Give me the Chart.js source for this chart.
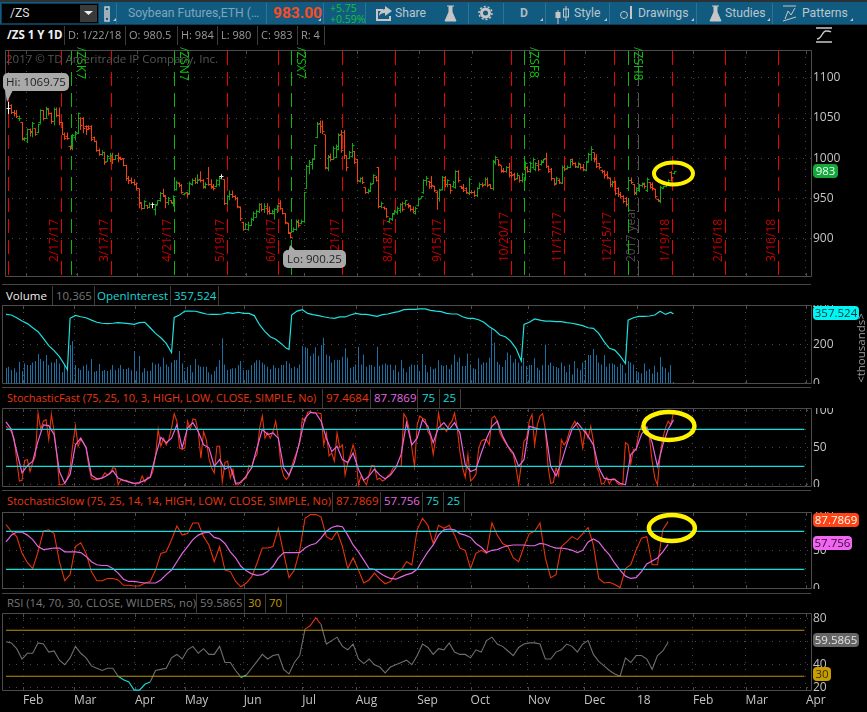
<!DOCTYPE html>
<html><head><meta charset="utf-8">
<style>
html,body{margin:0;padding:0;background:#000;width:867px;height:712px;overflow:hidden;font-family:"Open Sans",sans-serif}
canvas{position:absolute;left:0}
.a{position:absolute;white-space:nowrap}
.t{position:absolute;white-space:nowrap;font-size:11.500px;line-height:16px;color:#9a9a9a}
.sep{position:absolute;width:1px;background:#3c3c3c}
.hl{position:absolute;left:2px;width:809px;height:1px;background:#444}
.pill{position:absolute;left:813px;border-radius:4px;font-size:11.500px;line-height:14px;text-align:center;height:14px}
.tool{position:absolute;top:4px;font-family:Roboto,sans-serif;font-size:12.200px;line-height:18px;color:#b9c6ce;white-space:nowrap}
.tsep{position:absolute;top:3px;height:21px;width:1px;background:#2a7497}
.callout{position:absolute;background:#a9a9a9;color:#222;border-radius:5px;font-size:11.500px;line-height:18px;text-align:center}
</style></head><body>
<div class="a" style="left:0;top:0;width:867px;height:2px;background:#2b3135"></div>
<div class="a" style="left:0;top:2px;width:867px;height:22px;background:#125b80"></div>
<div class="a" style="left:0;top:24px;width:867px;height:1px;background:#0c3c56"></div>
<div class="a" style="left:2px;top:4px;width:96px;height:19px;background:#000;box-shadow:0 0 0 1px #0c3c56"></div>
<div class="a" style="left:80px;top:5px;width:17px;height:17px;background:#3a3a3a"></div>
<svg class="a" style="left:0;top:0" width="867" height="45">
<path d="M84 11h9l-4.500 4z" fill="#eee"/>
<path d="M105 7h4v14h-4zM107 10v8" stroke="#ccc" stroke-width="1.500" fill="none"/>
<path d="M376 9h7v2h-5v8h11v-3h2v5h-15zM385 6l7 5-7 5v-3c-3 0-5 1-6 3 0-4 2-6 6-7z" fill="#c6c6c6"/>
<path d="M447 6h7M449 6v6l-4 9h11l-4-9V6" fill="#c6c6c6" stroke="#c6c6c6"/>
<circle cx="485.500" cy="13" r="4" fill="none" stroke="#c6c6c6" stroke-width="3"/><circle cx="485.500" cy="13" r="6.500" fill="none" stroke="#c6c6c6" stroke-width="1.500" stroke-dasharray="2 2"/>
<path d="M558 10v14M566 6v15" stroke="#c6c6c6"/><rect x="555.500" y="12" width="5" height="6" fill="#c6c6c6"/><rect x="563.500" y="9" width="5" height="8" fill="none" stroke="#c6c6c6"/>
<circle cx="624" cy="15" r="3.500" fill="none" stroke="#c6c6c6"/><path d="M631 6v13" stroke="#c6c6c6" stroke-width="2"/>
<path d="M712 6h7M714 6v6l-4 9h11l-4-9V6" fill="#c6c6c6" stroke="#c6c6c6"/>
<path d="M783 6h13M785 19l3-8 3 4 4-7M783 21l13-4" stroke="#c6c6c6" fill="none"/>
<path d="M816 28h16M816 42h16M817 39c5 0 5-8 9-8 2 0 4 0 5 1" stroke="#c9c9c9" fill="none" stroke-width="1.300"/>
<path d="M116 21l-3 0 3-3zM321 21l-3 0 3-3zM543 21l-3 0 3-3zM607 21l-3 0 3-3zM694 21l-3 0 3-3zM770 21l-3 0 3-3zM853 21l-3 0 3-3z" fill="#c6c6c6"/>
</svg>
<div class="tool" style="left:10px;color:#ddd;top:4px">/ZS</div>
<div class="tool" style="left:128px;color:#7ea6bb">Soybean Futures,ETH (…</div>
<div class="tool" style="left:273px;color:#ff4a20;font-weight:700;font-size:15.500px;top:4px">983.00</div>
<div class="a" style="left:330px;top:3px;color:#12c23a;font-size:10.500px;line-height:11px">+5.75<br>+0.59%</div>
<div class="tool" style="left:395px">Share</div>
<div class="tool" style="left:520px;font-weight:700;color:#aeb9c0">D</div>
<div class="tool" style="left:574px">Style</div>
<div class="tool" style="left:638px">Drawings</div>
<div class="tool" style="left:725px">Studies</div>
<div class="tool" style="left:802px">Patterns</div>
<div class="tsep" style="left:116px"></div><div class="tsep" style="left:266px"></div><div class="tsep" style="left:323px"></div><div class="tsep" style="left:365px"></div><div class="tsep" style="left:468px"></div><div class="tsep" style="left:503px"></div><div class="tsep" style="left:545px"></div><div class="tsep" style="left:609px"></div><div class="tsep" style="left:696px"></div><div class="tsep" style="left:772px"></div>

<canvas id="c0" style="top:45px" width="867" height="237"></canvas>
<canvas id="c1" style="top:305px" width="867" height="79"></canvas>
<canvas id="c2" style="top:408px" width="867" height="79"></canvas>
<canvas id="c3" style="top:512px" width="867" height="77"></canvas>
<canvas id="c4" style="top:613px" width="867" height="99"></canvas>

<div class="t" style="left:7px;top:27px;color:#f0f0f0;font-weight:700">/ZS 1 Y 1D</div>
<div class="t" style="left:68px;top:27px;font-size:11px">D: 1/22/18</div><div class="t" style="left:129px;top:27px;font-size:11px">O: 980.5</div><div class="t" style="left:181px;top:27px;font-size:11px">H: 984</div><div class="t" style="left:221px;top:27px;font-size:11px">L: 980</div><div class="t" style="left:261px;top:27px;font-size:11px">C: 983</div><div class="t" style="left:301px;top:27px;font-size:11px">R: 4</div>
<div class="sep" style="left:64px;top:26px;height:19px"></div><div class="sep" style="left:125px;top:26px;height:19px"></div><div class="sep" style="left:177px;top:26px;height:19px"></div><div class="sep" style="left:217px;top:26px;height:19px"></div><div class="sep" style="left:257px;top:26px;height:19px"></div><div class="sep" style="left:297px;top:26px;height:19px"></div><div class="sep" style="left:324px;top:26px;height:19px"></div>
<div class="a" style="left:6px;top:51px;color:#555;font-size:11.500px;line-height:16px">2017 © TD Ameritrade IP Company, Inc.</div>

<div class="hl" style="top:284px"></div>
<div class="t" style="left:6px;top:288px;color:#eee">Volume</div><div class="t" style="left:56px;top:288px;color:#777">10,365</div><div class="t" style="left:97px;top:288px;color:#19d8d8">OpenInterest</div><div class="t" style="left:174px;top:288px;color:#19d8d8">357,524</div>
<div class="sep" style="left:52px;top:286px;height:19px"></div><div class="sep" style="left:94px;top:286px;height:19px"></div><div class="sep" style="left:170px;top:286px;height:19px"></div><div class="sep" style="left:218px;top:286px;height:19px"></div>

<div class="hl" style="top:387px"></div>
<div class="t" style="left:7px;top:390px;color:#e8380f;font-size:11px">StochasticFast (75, 25, 10, 3, HIGH, LOW, CLOSE, SIMPLE, No)</div><div class="t" style="left:326px;top:390px;color:#e8380f">97.4684</div><div class="t" style="left:374px;top:390px;color:#e36ae3">87.7869</div><div class="t" style="left:422px;top:390px;color:#19d8d8">75</div><div class="t" style="left:443px;top:390px;color:#19d8d8">25</div>
<div class="sep" style="left:322px;top:389px;height:19px"></div><div class="sep" style="left:370px;top:389px;height:19px"></div><div class="sep" style="left:417px;top:389px;height:19px"></div><div class="sep" style="left:439px;top:389px;height:19px"></div><div class="sep" style="left:460px;top:389px;height:19px"></div>

<div class="hl" style="top:490px"></div>
<div class="t" style="left:7px;top:493px;color:#e8380f;font-size:11.200px">StochasticSlow (75, 25, 14, 14, HIGH, LOW, CLOSE, SIMPLE, No)</div><div class="t" style="left:336px;top:493px;color:#e8380f">87.7869</div><div class="t" style="left:384px;top:493px;color:#e36ae3">57.756</div><div class="t" style="left:426px;top:493px;color:#19d8d8">75</div><div class="t" style="left:447px;top:493px;color:#19d8d8">25</div>
<div class="sep" style="left:332px;top:492px;height:20px"></div><div class="sep" style="left:380px;top:492px;height:20px"></div><div class="sep" style="left:422px;top:492px;height:20px"></div><div class="sep" style="left:443px;top:492px;height:20px"></div><div class="sep" style="left:464px;top:492px;height:20px"></div>

<div class="hl" style="top:593px"></div>
<div class="t" style="left:7px;top:595px;color:#777;font-size:11.300px">RSI (14, 70, 30, CLOSE, WILDERS, no)</div><div class="t" style="left:200px;top:595px;color:#777">59.5865</div><div class="t" style="left:248px;top:595px;color:#c29a08">30</div><div class="t" style="left:269px;top:595px;color:#c29a08">70</div>
<div class="sep" style="left:196px;top:594px;height:19px"></div><div class="sep" style="left:244px;top:594px;height:19px"></div><div class="sep" style="left:265px;top:594px;height:19px"></div><div class="sep" style="left:286px;top:594px;height:19px"></div>

<svg class="a" style="left:0;top:0" width="350" height="275"><path d="M5 90l2 12 6-12zM288 253l2-8 8 8z" fill="#a9a9a9"/></svg>
<div class="callout" style="left:3px;top:73px;width:66px;height:18px">Hi: 1069.75</div>
<div class="callout" style="left:283px;top:250px;width:63px;height:18px">Lo: 900.25</div>

<div class="a" style="left:825px;top:340px;color:#999;font-size:11.500px;line-height:16px;width:72px;text-align:center;transform:rotate(-90deg)">&lt;thousands&gt;</div>
<div class="pill" style="top:164px;width:25px;background:#14a83c;color:#eafff0">983</div>
<div class="pill" style="top:306px;width:46px;background:#00f5f5;color:#04383a">357.524</div>
<div class="pill" style="top:513px;width:46px;background:#ff4312;color:#fff">87.7869</div>
<div class="pill" style="top:536px;width:39px;background:#f264f2;color:#30102f">57.756</div>
<div class="pill" style="top:633px;width:46px;background:#666;color:#e4e4e4">59.5865</div>
<div class="pill" style="top:667px;width:18px;background:#c79d00;color:#3a2e00">30</div>

<script src="https://cdn.jsdelivr.net/npm/chart.js@4/dist/chart.umd.js"></script>
<script>
// ---- price bars (bar 0 = Jan 2017, bar 250 = 1/22/18)
const highs=[1070,1067,1060,1060,1053,1045,1026,1037,1037,1045,1037,1043,1061,1060,1064,1062,1057,1063,1063,1063,1045,1032,1032,1016,1030,1034,1057,1051,1051,1041,1041,1041,1027,1022,1012,1010,1008,1004,1007,1007,1004,1007,1002,1000,992,978,976,974,970,962,945,948,942,945,945,943,948,958,962,954,952,948,954,972,970,968,957,958,971,975,976,980,984,974,970,989,974,968,974,978,980,974,954,960,960,954,952,940,921,920,921,926,934,936,944,944,944,944,940,936,938,942,948,938,932,920,908,914,924,924,924,958,992,998,1000,1017,1045,1047,1047,1029,1004,1006,1015,1017,1031,1035,1035,1003,1009,1019,1009,999,976,977,964,962,970,980,978,989,946,940,938,926,932,936,940,944,946,948,944,942,940,940,950,953,974,978,972,978,966,960,962,978,978,974,968,972,985,985,966,968,964,976,960,960,964,970,970,976,976,968,998,1003,998,991,988,990,994,984,982,982,978,982,996,990,996,1001,995,998,998,999,1007,991,988,975,977,975,991,991,991,999,999,995,995,993,993,997,1007,1015,1007,1005,994,986,985,984,976,972,972,964,958,954,952,974,976,968,964,968,970,970,976,970,970,962,950,966,966,968,974,984,984];
const lows=[1055,1055,1052,1050,1046,1022,1021,1019,1027,1026,1028,1031,1043,1047,1049,1053,1043,1041,1051,1041,1029,1023,1023,1010,1010,1022,1030,1035,1031,1029,1035,1021,1020,1008,1003,1003,992,996,995,993,998,995,998,990,972,968,968,966,960,938,936,937,937,938,938,929,942,946,952,938,942,944,940,960,964,956,954,952,955,966,968,968,970,962,962,966,962,960,964,965,974,942,942,948,951,948,938,922,910,911,910,916,922,926,932,934,932,930,930,930,924,932,936,930,918,906,900.25,908,910,914,918,920,962,980,986,998,1025,1031,1030,986,984,996,998,1000,1010,1007,999,984,999,1001,993,970,970,968,956,956,958,968,971,938,938,936,926,920,922,930,930,932,934,940,938,934,932,930,940,950,956,966,962,962,958,936,946,960,964,964,956,964,962,970,962,958,956,954,956,952,952,962,964,966,964,962,960,992,990,982,982,982,976,976,972,974,970,970,972,982,982,987,984,984,991,994,988,982,972,966,968,968,968,984,986,988,991,988,988,986,984,984,995,997,995,988,986,981,975,974,964,964,954,952,950,944,940,962,968,954,954,958,964,962,958,962,960,950,946,944,962,964,968,971,980];
const opens=[1062,1065,1057,1055,1049,1045,1023,1024,1036,1032,1037,1032,1044,1059,1050,1061,1056,1046,1060,1053,1045,1030,1027,1015,1012,1026,1031,1050,1050,1040,1039,1040,1026,1021,1010,1005,1007,996,1000,1004,998,1003,1001,1000,991,975,973,970,968,962,944,938,941,939,942,936,942,947,956,953,945,947,944,961,969,966,955,957,956,968,973,970,974,972,964,975,968,965,965,968,977,974,944,952,955,953,950,939,920,912,912,917,924,927,934,942,936,938,934,932,932,936,944,937,931,919,907,909,911,920,919,921,963,990,992,999,1026,1043,1040,1029,987,1002,999,1001,1011,1030,1032,1003,1000,1002,1008,998,971,975,964,958,959,969,976,989,940,939,937,921,924,932,933,935,942,944,943,941,936,932,941,950,957,972,971,970,965,958,950,961,972,968,967,965,964,983,965,964,962,956,958,958,954,963,968,967,974,967,962,995,998,991,985,983,988,982,980,975,978,972,974,989,984,989,986,991,992,995,1000,990,986,975,969,973,969,989,987,989,998,994,989,992,988,985,996,1005,1007,1000,993,985,983,980,975,967,971,962,955,952,950,963,972,968,957,960,966,968,960,970,968,961,949,946,963,965,969,982,980.5];
const closes=[1062,1057,1055,1052,1050,1024,1024,1036,1033,1043,1030,1042,1059,1050,1062,1055,1046,1060,1053,1045,1030,1025,1024,1012,1028,1032,1055,1041,1037,1036,1037,1023,1021,1010,1005,1007,995,1002,1004,998,1003,1000,999,991,975,972,970,968,962,945,938,946,939,943,942,941,947,956,954,945,950,945,952,970,966,958,956,955,969,973,970,972,972,965,968,968,964,962,972,975,977,944,952,955,953,950,940,925,912,918,917,924,932,934,942,936,940,934,932,934,936,940,938,932,920,908,902,912,922,916,922,957,990,995,998,1016,1042,1040,1033,988,1001,998,1012,1015,1028,1010,1003,988,1007,1016,995,972,975,970,958,960,968,978,973,940,944,937,928,925,930,934,938,942,936,947,940,936,934,938,949,952,972,975,965,966,960,950,960,976,968,972,960,970,983,972,963,960,958,974,957,954,962,968,966,974,966,963,996,1001,992,984,983,988,978,979,974,979,973,980,994,984,993,999,993,986,996,998,990,984,975,968,975,970,989,986,989,996,993,990,993,988,986,995,1005,1011,998,990,988,983,978,976,967,970,956,955,952,946,942,972,970,956,962,966,969,965,974,964,962,952,947,964,965,967,972,976,983];
// ---- volume and open interest, thousands
const volume=[83,88,71,80,60,114,66,105,97,97,110,117,153,127,117,148,97,110,110,127,105,60,97,76,199,219,97,80,71,93,100,68,127,63,66,102,66,71,66,73,97,71,80,97,76,76,83,70,168,66,143,60,80,66,68,110,100,105,88,134,100,88,110,122,122,168,105,66,88,97,60,127,97,88,88,88,60,49,66,88,122,233,100,71,76,80,80,97,117,71,71,71,97,110,121,121,110,100,88,76,97,83,80,97,97,117,105,80,88,80,100,195,187,182,144,156,187,144,199,236,151,144,110,122,122,122,139,182,134,83,88,100,190,100,151,88,97,97,88,190,93,100,105,97,100,71,97,63,122,80,60,88,100,97,100,66,153,97,60,88,76,80,
121,97,92,97,76,100,151,114,134,92,92,156,100,80,76,131,100,110,110,134,284,211,114,100,87,121,161,148,110,127,110,93,134,92,97,97,131,83,71,97,202,97,110,92,87,80,110,92,60,100,49,117,80,71,110,122,148,148,178,148,110,100,148,88,105,105,100,88,105,97,56,117,110,100,66,60,54,105,66,76,54,93,60,138,88,80,60,97,10];
const oiBars=[0,2,4,6,8,10,12,14,16,18,20,22,23,24,26,28,30,32,34,36,38,40,42,44,46,48,50,52,54,56,58,60,62,63,65,67,69,71,73,75,77,79,81,83,85,87,89,91,93,95,97,99,101,103,105,106,107,109,111,113,115,117,119,121,123,125,127,129,131,133,135,137,139,141,143,145,147,149,151,153,155,157,159,161,163,165,167,169,171,173,175,177,179,181,183,185,187,189,191,193,194,196,198,200,202,204,206,208,210,212,214,216,218,220,222,224,226,228,230,232,233,235,237,239,241,243,245,247,249,250];
const openInterest=[355,352,338,321,308,287,267,233,196,170,140,97,73,335,350,343,338,326,315,310,308,310,313,311,308,304,313,315,287,258,236,207,160,340,352,372,372,371,364,357,355,355,357,364,360,366,360,360,349,301,267,241,228,207,182,177,352,372,379,360,354,349,343,338,335,342,342,352,360,355,355,350,345,354,357,364,369,379,381,381,383,383,376,372,369,360,357,357,343,335,335,328,315,292,275,250,241,219,182,117,304,315,332,326,321,321,318,318,313,310,304,298,287,284,258,216,182,173,143,104,326,338,345,345,347,352,371,355,366,357.5];
// ---- stochastic fast %K (every bar)
const fastK=[79,76,72,63,34,5,6,33,34,18,30,39,97,75,86,88,61,95,72,41,0,0,2,9,23,54,80,52,61,57,50,25,9,7,7,8,10,16,13,15,23,22,0,7,6,6,4,2,2,1,2,12,4,10,10,18,39,75,52,63,54,61,77,96,86,50,48,50,86,75,89,88,72,36,72,61,36,23,16,52,52,4,30,32,9,21,0,0,5,7,9,26,23,36,41,77,93,63,70,63,72,86,63,25,12,7,12,25,36,45,57,90,86,98,99,97,97,97,96,54,70,39,43,32,70,50,54,13,30,41,54,41,0,12,5,0,14,26,25,7,9,5,7,12,15,23,25,25,25,96,90,75,50,25,81,93,90,88,72,66,
41,63,97,75,77,72,81,86,97,77,45,23,10,41,5,9,14,48,59,61,61,54,90,93,86,70,63,57,52,45,41,23,1,27,59,63,86,95,54,81,93,96,75,25,2,3,23,12,61,54,59,72,79,86,79,72,50,75,63,79,59,25,18,1,2,10,1,8,8,2,0,0,57,54,28,48,48,70,79,72,75,63,32,9,0,41,63,77,86,81,97.47];
// ---- lines below are read every second bar
const strideBars=[0,2,4,6,8,10,12,14,16,18,20,22,24,26,28,30,32,34,36,38,40,42,44,46,48,50,52,54,56,58,60,62,64,66,68,70,72,74,76,78,80,82,84,86,88,90,92,94,96,98,100,102,104,106,108,110,112,114,116,118,120,122,124,126,128,130,132,134,136,138,140,142,144,146,148,150,152,154,156,158,160,162,164,166,168,170,172,174,176,178,180,182,184,186,188,190,192,194,196,198,200,202,204,206,208,210,212,214,216,218,220,222,224,226,228,230,232,234,236,238,240,242,244,246,248,250];
const fastD=[85,75,45,16,26,32,59,81,80,68,18,2,14,54,63,50,13,8,9,13,19,9,6,4,2,3,6,10,39,64,57,63,81,50,77,84,72,54,50,25,34,21,25,2,3,12,23,50,75,68,70,63,23,13,30,59,90,98,97,86,63,45,52,34,30,43,21,6,12,21,13,8,13,23,41,84,54,63,88,79,57,
77,84,75,84,70,27,18,21,43,63,79,86,66,52,43,25,34,79,77,75,75,25,12,30,54,75,84,75,66,54,23,9,7,7,2,0,41,48,68,78,57,25,54,75,87.79];
const slowK=[84,75,68,46,34,26,48,75,77,72,35,10,18,55,60,46,22,10,10,13,13,11,4,4,3,3,7,9,24,46,48,64,82,70,72,86,86,68,57,35,55,24,22,9,2,7,15,33,53,53,55,79,46,14,24,50,92,97,97,94,68,64,75,55,26,40,24,7,11,20,12,6,9,20,24,35,31,77,92,83,59,
83,79,83,70,53,50,26,46,50,46,86,70,59,55,40,35,55,72,75,86,40,14,18,55,61,68,64,72,80,57,13,7,8,5,1,26,31,50,66,68,31,31,77,87.79];
const slowD=[61,70,74,74,70,64,55,51,52,53,53,48,48,48,47,42,35,31,30,30,26,20,12,9,9,8,7,7,7,11,18,24,35,46,55,64,70,73,74,67,65,59,48,40,29,23,19,17,18,22,29,40,47,47,47,47,53,57,59,66,75,80,82,81,70,57,48,37,26,25,20,16,13,12,15,18,20,25,37,48,57,
70,77,78,77,72,70,67,59,54,47,50,51,54,56,57,57,57,56,56,59,58,55,53,53,52,50,47,50,61,65,61,52,44,33,24,16,13,14,22,32,36,40,48,57.76];
const rsi=[60,59,54,45,50,50,59,58,51,52,44,40,46,56,50,46,39,37,35,37,37,30,27,25,18,18,23,25,35,36,37,46,49,45,53,56,50,54,49,49,56,42,42,35,29,31,37,43,49,45,48,49,36,32,42,48,71,74,81,75,58,61,64,56,53,58,45,41,45,40,38,33,38,40,42,44,40,48,58,55,49,
54,53,59,51,49,49,46,53,51,61,64,58,56,52,48,55,58,59,59,58,45,45,51,53,58,56,51,58,61,49,43,39,35,32,30,46,42,48,48,45,36,48,52,59.59];
// ---- axes, levels and events
const priceTicks=[900,950,1000,1050,1100];
const volTicks=[0,200,400];
const stochTicks=[0,50,100];
const rsiTicks=[20,40,60,80];
const monthBars=[6.4,25.5,48.3,67,89,111,131,154,174,195.500,216.500,236.300,257.300,277,299.600];
const monthLabels=['Feb','Mar','Apr','May','Jun','Jul','Aug','Sep','Oct','Nov','Dec','18','Feb','Mar','Apr'];
const levelBars=[0,299];
const stochLevels=[75,25];
const rsiLevels=[70,30];
const redBars=[-0.4,19.500,38.200,62.200,82,101.100,125.100,145,163.700,188.800,208.600,227.300,249.400,269.300,289.100];
const dateLabels=['','2/17/17','3/17/17','4/21/17','5/19/17','6/16/17','7/21/17','8/18/17','9/15/17','10/20/17','11/17/17','12/15/17','1/19/18','2/16/18','3/16/18'];
const greenBars=[23.200,62.200,106,193.600,232.600];
const contractLabels=['/ZSK7','/ZSN7','/ZSX7','/ZSF8','/ZSH8'];
const yearBar=236.300, yearLabel='2017 year';

const RED='#f2400f',GREEN='#0cab12',WHITE='#f0f0f0',GRID='#4a4a4a',LABEL='#c4c4c4',FONT='"Open Sans",sans-serif';
const barIdx=highs.map((_,i)=>i);
const pair=(xs,ys)=>ys.map((y,i)=>({x:xs[i],y}));
const barColor=i=>closes[i]===opens[i]?WHITE:(closes[i]>opens[i]?GREEN:RED);
const snap=v=>Math.round(v-.5)+.5;
const frame={id:'frame',beforeDatasetsDraw(c){const a=c.chartArea,x=c.ctx;
 c.getSortedVisibleDatasetMetas().forEach(m=>{
  if(m.type==='bar')m.data.forEach(el=>{el.x=snap(el.x)});
  else if(c.data.datasets[m.index].showLine===false)m.data.forEach(el=>{el.x=snap(el.x);el.y=snap(el.y)});
 });
 x.save();x.strokeStyle='#4c4c4c';x.lineWidth=1;
 x.beginPath();x.moveTo(a.left+.5,a.top+.5);x.lineTo(a.right+.5,a.top+.5);x.lineTo(a.right+.5,a.bottom-.5);x.lineTo(a.left+.5,a.bottom-.5);x.closePath();
 monthBars.forEach(b=>{const p=Math.round(c.scales.x.getPixelForValue(b))+.5;x.moveTo(p,a.top);x.lineTo(p,a.top+4);x.moveTo(p,a.bottom-4);x.lineTo(p,a.bottom)});
 x.stroke();x.restore()}};
const ring=(bar,val,rx,ry,w)=>({id:'ring',afterDraw(c){const x=c.ctx;x.save();x.strokeStyle='#fff200';x.lineWidth=w;x.beginPath();
 x.ellipse(c.scales.x.getPixelForValue(bar),c.scales.y.getPixelForValue(val),rx,ry,0,0,7);x.stroke();x.restore()}});
const events={id:'events',beforeDatasetsDraw(c){const a=c.chartArea,x=c.ctx,s=c.scales.x;x.save();x.lineWidth=1;
 const v=(b,col)=>{const p=Math.round(s.getPixelForValue(b))+.5;x.strokeStyle=col;x.setLineDash([14,7]);x.beginPath();x.moveTo(p,a.top+1);x.lineTo(p,a.bottom);x.stroke();x.setLineDash([]);return p};
 const txt=(t,px,py,rot,col)=>{x.save();x.translate(px,py);x.rotate(rot);x.fillStyle=col;x.font='12px '+FONT;x.textAlign='left';x.textBaseline='middle';x.fillText(t,0,0);x.restore()};
 redBars.forEach((b,i)=>{const p=v(b,'#f00000');if(dateLabels[i])txt(dateLabels[i],p-7,217,-Math.PI/2,'#c80000')});
 v(yearBar,'#555');txt(yearLabel,s.getPixelForValue(yearBar)-6,217,-Math.PI/2,'#4c4c4c');
 greenBars.forEach((b,i)=>{const p=v(b,'#0cb80c');txt(contractLabels[i],p+8.5,2,Math.PI/2,'#0cc40c')});
 x.restore()}};
function lineSet(data,color,w,extra){return Object.assign({type:'line',data,borderColor:color,borderWidth:w||1.1,pointRadius:0,tension:0,fill:false},extra||{})}
function levels(vals,color){return vals.map(v=>lineSet(pair(levelBars,levelBars.map(()=>v)),color,1.2))}
function pane(id,min,max,ticks,datasets,plugins,labelled){
 const noPad=s=>{s.paddingTop=s.paddingBottom=s.paddingLeft=s.paddingRight=0};
 return new Chart(document.getElementById(id),{type:'bar',data:{datasets},plugins:[frame].concat(plugins||[]),options:{
  responsive:false,animation:false,events:[],devicePixelRatio:1,layout:{padding:{left:2,right:0,top:0,bottom:0}},
  plugins:{legend:{display:false},tooltip:{enabled:false}},
  scales:{
   x:{type:'linear',offset:false,min:-1.5,max:301.5,
    afterBuildTicks:s=>{s.ticks=monthBars.map(value=>({value}))},
    afterFit:s=>{s.height=labelled?21:0;noPad(s)},
    grid:{offset:false,color:GRID,drawTicks:false,lineWidth:1},border:{display:false,dash:[1,6]},
    ticks:{display:!!labelled,autoSkip:false,maxRotation:0,minRotation:0,align:'start',padding:2,color:LABEL,font:{size:12,family:FONT},callback:(v,i)=>monthLabels[i]}},
   y:{type:'linear',position:'right',min,max,
    afterBuildTicks:s=>{s.ticks=ticks.map(value=>({value}))},
    afterFit:s=>{s.width=56;noPad(s)},
    grid:{color:GRID,drawTicks:false,lineWidth:1},border:{display:false,dash:[1,6]},
    ticks:{autoSkip:false,padding:2,color:LABEL,font:{size:12,family:FONT},callback:v=>String(v)}}
  }}});
}
const dashSet=(vals,rotation)=>({type:'line',showLine:false,data:pair(barIdx,vals),pointStyle:'dash',pointRadius:2,pointRotation:rotation,pointBorderWidth:1,pointBorderColor:barIdx.map(barColor),pointBackgroundColor:barIdx.map(barColor)});
pane('c0',852.5,1134.5,priceTicks,[
 dashSet(closes,0),dashSet(opens,180),
 {data:barIdx.map(i=>({x:i,y:[lows[i],highs[i]]})),backgroundColor:barIdx.map(barColor),barThickness:1,inflateAmount:0}
],[events,ring(249.800,981,19.500,11,4)]);
pane('c1',0,403,volTicks,[
 lineSet(pair(oiBars,openInterest),'#1fe0e0',1.2),
 {data:pair(barIdx,volume),backgroundColor:'#1a6fa3',barThickness:1,inflateAmount:0}
]);
pane('c2',-3,103.800,stochTicks,[
 ...levels(stochLevels,'#12dede'),
 lineSet(pair(strideBars,fastD),'#e266e2',1.2),
 lineSet(pair(barIdx,fastK),'#e8330a',1.1)
],[ring(248.300,79.500,25.500,14,4.500)]);
pane('c3',-0.9,100.400,stochTicks,[
 ...levels(stochLevels,'#12dede'),
 lineSet(pair(strideBars,slowD),'#e266e2',1.2),
 lineSet(pair(strideBars,slowK),'#e8330a',1.1)
],[ring(249.400,79.300,23,13,4.500)]);
pane('c4',17.200,85,rsiTicks,[
 ...levels(rsiLevels,'#b8920c'),
 lineSet(pair(strideBars,rsi),'#6e6e6e',1.1,{segment:{borderColor:c=>{const a=c.p0.parsed.y,b=c.p1.parsed.y;return (a>=70&&b>=70)?'#e8330a':(a<=31&&b<=31)?'#12dede':'#6e6e6e'}}})
],[],true);
</script>
</body></html>
